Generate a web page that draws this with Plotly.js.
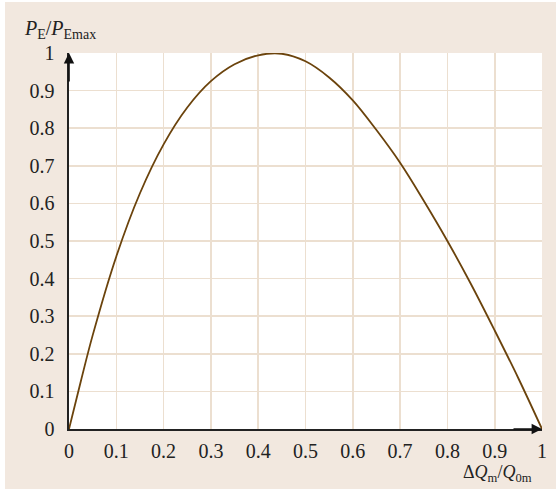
<!DOCTYPE html>
<html><head><meta charset="utf-8">
<script src="https://cdn.plot.ly/plotly-3.0.1.min.js"></script>
<style>
html,body{margin:0;padding:0;background:#ffffff;}
#chart{position:absolute;left:5px;top:2px;width:551px;height:487px;}
</style></head>
<body><div id="chart"></div>
<script>
const xValues = [0, 0.025, 0.05, 0.1, 0.15, 0.2, 0.25, 0.3, 0.35, 0.4, 0.45, 0.5, 0.55, 0.6, 0.65, 0.7, 0.75, 0.8, 0.85, 0.9, 0.95, 1.0];
const yValues = [0, 0.127, 0.249, 0.459, 0.627, 0.757, 0.855, 0.925, 0.970, 0.994, 0.998, 0.978, 0.935, 0.874, 0.795, 0.708, 0.607, 0.5, 0.385, 0.262, 0.135, 0];
const tickVals = [0, 0.1, 0.2, 0.3, 0.4, 0.5, 0.6, 0.7, 0.8, 0.9, 1];
const tickText = ['0', '0.1', '0.2', '0.3', '0.4', '0.5', '0.6', '0.7', '0.8', '0.9', '1'];
const xRange = [0, 1];
const yRange = [0, 1];

const font = {family: 'Liberation Serif', size: 20, color: '#222'};
const grid = '#ecdfd0';

const trace = {
  x: xValues, y: yValues, mode: 'lines', type: 'scatter',
  line: {color: '#6b430c', width: 1.8, shape: 'spline', smoothing: 1},
  hoverinfo: 'skip', cliponaxis: false
};

const layout = {
  width: 551, height: 487,
  paper_bgcolor: '#f2e8df', plot_bgcolor: '#ffffff',
  margin: {l: 63.5, r: 13.5, t: 51, b: 59.5},
  showlegend: false,
  font: font,
  xaxis: {
    range: xRange, tickvals: tickVals, ticktext: tickText,
    showgrid: true, gridcolor: grid, gridwidth: 1.6,
    zeroline: false, showline: true, linecolor: '#222', linewidth: 1.6,
    ticks: '', ticklabelstandoff: 3, tickfont: font, fixedrange: true
  },
  yaxis: {
    range: yRange, tickvals: tickVals, ticktext: tickText,
    showgrid: true, gridcolor: grid, gridwidth: 1.6,
    zeroline: false, showline: true, linecolor: '#222', linewidth: 1.6,
    ticks: '', ticklabelstandoff: 9, tickfont: font, fixedrange: true
  },
  annotations: [
    {x: xRange[1], y: yRange[0], xref: 'x', yref: 'y', ax: -30, ay: 0, axref: 'pixel', ayref: 'pixel',
     showarrow: true, arrowhead: 2, arrowsize: 1.3, arrowwidth: 1.6, arrowcolor: '#111', text: ''},
    {x: xRange[0], y: yRange[1], xref: 'x', yref: 'y', ax: 0, ay: 30, axref: 'pixel', ayref: 'pixel',
     showarrow: true, arrowhead: 2, arrowsize: 1.3, arrowwidth: 1.6, arrowcolor: '#111', text: ''},
    {x: 0, y: 1, xref: 'paper', yref: 'paper', xshift: -47, yshift: 9, xanchor: 'left', yanchor: 'bottom',
     showarrow: false, font: {family: 'Liberation Serif', size: 20, color: '#222'},
     text: '<i>P</i><sub>E</sub>/<i>P</i><sub>Emax</sub>'},
    {x: 1, y: 0, xref: 'paper', yref: 'paper', xshift: -8, yshift: -31, xanchor: 'right', yanchor: 'top',
     showarrow: false, font: {family: 'Liberation Serif', size: 18, color: '#222'},
     text: 'Δ<i>Q</i><sub>m</sub>/<i>Q</i><sub>0m</sub>'}
  ]
};

Plotly.newPlot('chart', [trace], layout, {displayModeBar: false, staticPlot: true});
</script></body></html>
